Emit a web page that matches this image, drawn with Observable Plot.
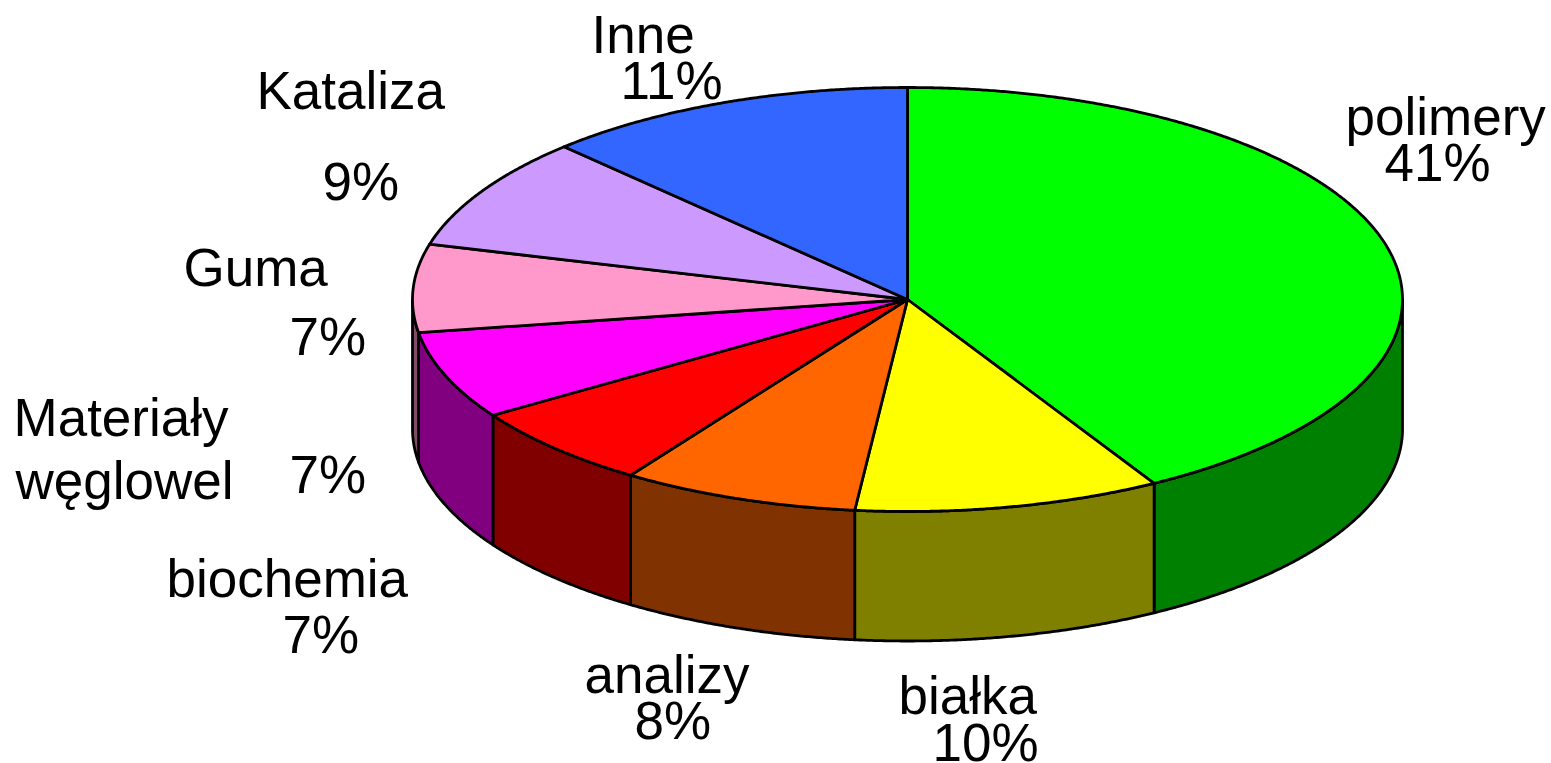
<!DOCTYPE html>
<html>
<head>
<meta charset="utf-8">
<script src="https://cdn.jsdelivr.net/npm/d3@7"></script>
<script src="https://cdn.jsdelivr.net/npm/@observablehq/plot@0.6"></script>
<style>
html,body{margin:0;padding:0;background:#fff;overflow:hidden}
svg{display:block}
</style>
</head>
<body>
<div id="chart"></div>
<script>
// Slices, clockwise from the top of the pie
const categories = ["polimery", "białka", "analizy", "biochemia", "Materiały węglowel", "Guma", "Kataliza", "Inne"];
const shares = [41.7, 10.0, 7.75, 6.35, 6.7, 6.7, 8.6, 12.2]; // as drawn
const topColors = ["#00ff00", "#ffff00", "#ff6600", "#ff0000", "#ff00ff", "#ff99cc", "#cc99ff", "#3366ff"];
const sideColors = ["#008000", "#808000", "#803300", "#800000", "#800080", "#804d66", "#664d80", "#1a3380"];

// Text labels, as printed
const labelTexts = ["polimery", "41%", "białka", "10%", "analizy", "8%", "biochemia", "7%", "Materiały", "węglowel", "7%", "Guma", "7%", "Kataliza", "9%", "Inne", "11%"];
const labelLeft = [1345, 1384, 898, 932, 584, 634, 166, 282, 13, 15, 289, 183, 289, 256, 322, 591, 620];
const labelBase = [134, 180, 713, 760, 692, 738, 596, 652, 435, 498, 492, 285, 354, 108, 199, 52, 98];

const W = 1551, H = 763;
const pieLeft = 412, pieRight = 1402, pieTop = 87, pieBottom = 511, wallPx = 129.5;
const wall = wallPx / ((pieBottom - pieTop) / 2);
const ux = px => (px - (pieLeft + pieRight) / 2) / ((pieRight - pieLeft) / 2);
const uy = py => (py - (pieTop + pieBottom) / 2) / ((pieBottom - pieTop) / 2);

const total = d3.sum(shares);
const cum = d3.cumsum(shares);
const slices = categories.map((name, i) => ({
  name,
  a0: ((i ? cum[i - 1] : 0) / total) * 2 * Math.PI,
  a1: (cum[i] / total) * 2 * Math.PI,
  lid: topColors[i],
  side: sideColors[i]
}));

function arc(a0, a1, dy = 0) {
  const n = Math.max(2, Math.ceil((a1 - a0) / 0.005));
  return d3.range(n + 1).map(k => {
    const a = a0 + (a1 - a0) * k / n;
    return {x: Math.sin(a), y: -Math.cos(a) + dy};
  });
}

const rows = [];
// Wall: only the front half of the rim is visible
for (const s of slices) {
  const a0 = Math.max(s.a0, Math.PI / 2), a1 = Math.min(s.a1, 3 * Math.PI / 2);
  if (a1 <= a0) continue;
  const pts = [...arc(a0, a1), ...arc(a0, a1, wall).reverse()];
  pts.push(pts[0]);
  for (const p of pts) rows.push({...p, id: "w" + s.name, color: s.side});
}
// Lid
for (const s of slices) {
  const pts = [{x: 0, y: 0}, ...arc(s.a0, s.a1), {x: 0, y: 0}];
  for (const p of pts) rows.push({...p, id: "t" + s.name, color: s.lid});
}

const labels = labelTexts.map((t, i) => ({t, x: ux(labelLeft[i]), y: uy(labelBase[i])}));

const chart = Plot.plot({
  width: W, height: H,
  margin: 0,
  x: {domain: [-1, 1], range: [pieLeft, pieRight], axis: null},
  y: {domain: [-1, 1], range: [pieTop, pieBottom], axis: null},
  color: {type: "identity"},
  style: {background: "#fff"},
  marks: [
    Plot.line(rows, {
      x: "x", y: "y", z: "id", fill: "color",
      stroke: "#000", strokeWidth: 2.8, strokeLinejoin: "round", curve: "linear"
    }),
    Plot.text(labels, {
      x: "x", y: "y", text: "t",
      textAnchor: "start", lineAnchor: "bottom",
      fontFamily: "Liberation Sans", fontSize: 53, fill: "#000"
    })
  ]
});
document.getElementById("chart").appendChild(chart);
</script>
</body>
</html>
